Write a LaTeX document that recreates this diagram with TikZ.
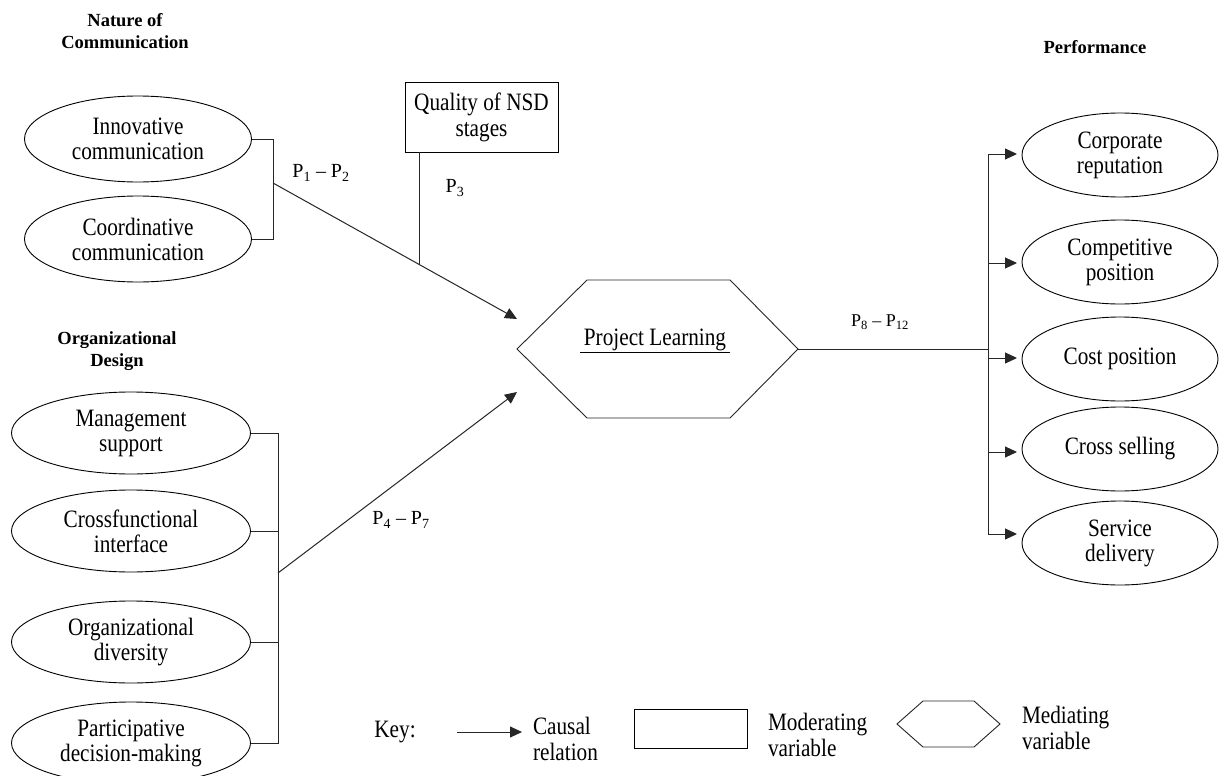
\documentclass[tikz,border=0pt]{standalone}
\usepackage{fontspec}
\setmainfont{Liberation Serif}
\newfontfamily\cf[FakeStretch=0.85]{Liberation Serif}
\usetikzlibrary{arrows.meta,shapes.geometric}
\begin{document}
\begin{tikzpicture}[x=1pt,y=-1pt,
  every node/.style={inner sep=0pt, outer sep=0pt},
  lw/.style={line width=1pt, draw=black!85},
  ell/.style={ellipse, draw, line width=0.9pt, align=center, font=\cf\fontsize{25}{25}\selectfont},
  lell/.style={ell, minimum width=239pt, minimum height=82pt},
  tell/.style={ell, minimum width=227pt, minimum height=86pt},
  rell/.style={ell, minimum width=196pt, minimum height=84pt},
  head/.style={font=\fontsize{18.5}{22}\selectfont\bfseries, align=center},
  plab/.style={font=\fontsize{20}{22}\selectfont},
  arr/.style={lw, -{Triangle[length=12pt,width=11pt]}},
  txt/.style={font=\cf\fontsize{25}{26}\selectfont, align=left},
  boxn/.style={draw, line width=0.9pt, align=center, font=\cf\fontsize{25}{26}\selectfont},
]
\useasboundingbox (0,0) rectangle (1219,776);
\fill[white] (0,0) rectangle (1219,776);

% headings
\node[head] (hnc) at (125,31) {Nature of\\Communication};
\node[head] (hod) at (117,351) {Organizational\\Design};
\node[head] (hpf) at (1095,47) {Performance};

% left top ellipses
\node[tell] (inn) at (138,139) {Innovative\\communication};
\node[tell] (coo) at (138,239) {Coordinative\\communication};

% left bottom ellipses
\node[lell] (man) at (131,433) {Management\\support};
\node[lell] (crf) at (131,531) {Crossfunctional\\interface};
\node[lell] (odv) at (131,642) {Organizational\\diversity};
\node[lell] (pdm) at (131,743) {Participative\\decision-making};

% moderator box
\node[boxn, minimum width=153pt, minimum height=70pt] (qual) at (481.5,117) {Quality of NSD\\stages};

% mediator hexagon
\node[minimum width=281pt, minimum height=138pt] (pl) at (657.5,349) {};
\draw[lw, line width=0.9pt] (pl.west) -- ([xshift=70pt]pl.north west) -- ([xshift=-68pt]pl.north east) -- (pl.east)
  -- ([xshift=-68pt]pl.south east) -- ([xshift=70pt]pl.south west) -- cycle;
\node[font=\cf\fontsize{25}{25}\selectfont] (plt) at (655,341) {\underline{\hspace{4pt}Project Learning\hspace{4pt}}};

% right ellipses
\node[rell] (cr) at (1120,155) {Corporate\\reputation};
\node[rell] (cp) at (1120,262) {Competitive\\position};
\node[rell] (cst) at (1120,359) {Cost position};
\node[rell] (cs) at (1120,449) {Cross selling};
\node[rell] (sd) at (1120,543) {Service\\delivery};

% coordinates
\coordinate (b1) at (273,183);
\coordinate (t1) at (517,319);
\coordinate (j1) at (419,264);
\coordinate (b2) at (278,573);
\coordinate (t2) at (517,392);
\coordinate (rv) at (988,349);

% upper bracket
\draw[lw] (inn.east) -- (273,139) -- (273,239) -- (coo.east);
\draw[arr] (b1) -- (t1);
\draw[lw] ([xshift=14pt]qual.south west) -- (j1);

% lower bracket
\draw[lw] (man.east) -- (278,433) -- (278,743) -- (pdm.east);
\draw[lw] (crf.east) -- (278,531);
\draw[lw] (odv.east) -- (278,642);
\draw[arr] (b2) -- (t2);

% right fan
\draw[lw] (pl.east) -- (rv);
\draw[lw] (988,154) -- (988,534);
\draw[arr] (988,154) -- (1017,154);
\draw[arr] (988,263) -- (1017,263);
\draw[arr] (988,358) -- (1017,358);
\draw[arr] (988,452) -- (1017,452);
\draw[arr] (988,534) -- (1017,534);

% labels
\node[plab] (l12) at (321,173) {P\textsubscript{1} – P\textsubscript{2}};
\node[plab] (l3) at (455,188) {P\textsubscript{3}};
\node[plab] (l47) at (401,520) {P\textsubscript{4} – P\textsubscript{7}};
\node[font=\fontsize{18}{20}\selectfont] (l812) at (880,322) {P\textsubscript{8} – P\textsubscript{12}};

% key
\node[txt] (key) at (395,732) {Key:};
\coordinate (ka1) at (457,732);
\coordinate (ka2) at (522,732);
\draw[arr] (ka1) -- (ka2);
\node[txt, anchor=west] (kc) at (533,739) {Causal\\relation};
\node[draw, line width=0.9pt, minimum width=113pt, minimum height=39pt] (kr) at (690.5,728.5) {};
\node[txt, anchor=west] (km) at (768,735) {Moderating\\variable};
\node[minimum width=103pt, minimum height=46pt] (kh) at (948.5,724) {};
\draw[lw, line width=0.9pt] (kh.west) -- ([xshift=26pt]kh.north west) -- ([xshift=-26pt]kh.north east) -- (kh.east)
  -- ([xshift=-26pt]kh.south east) -- ([xshift=26pt]kh.south west) -- cycle;
\node[txt, anchor=west] (kmed) at (1022,728) {Mediating\\variable};
\end{tikzpicture}
\end{document}
